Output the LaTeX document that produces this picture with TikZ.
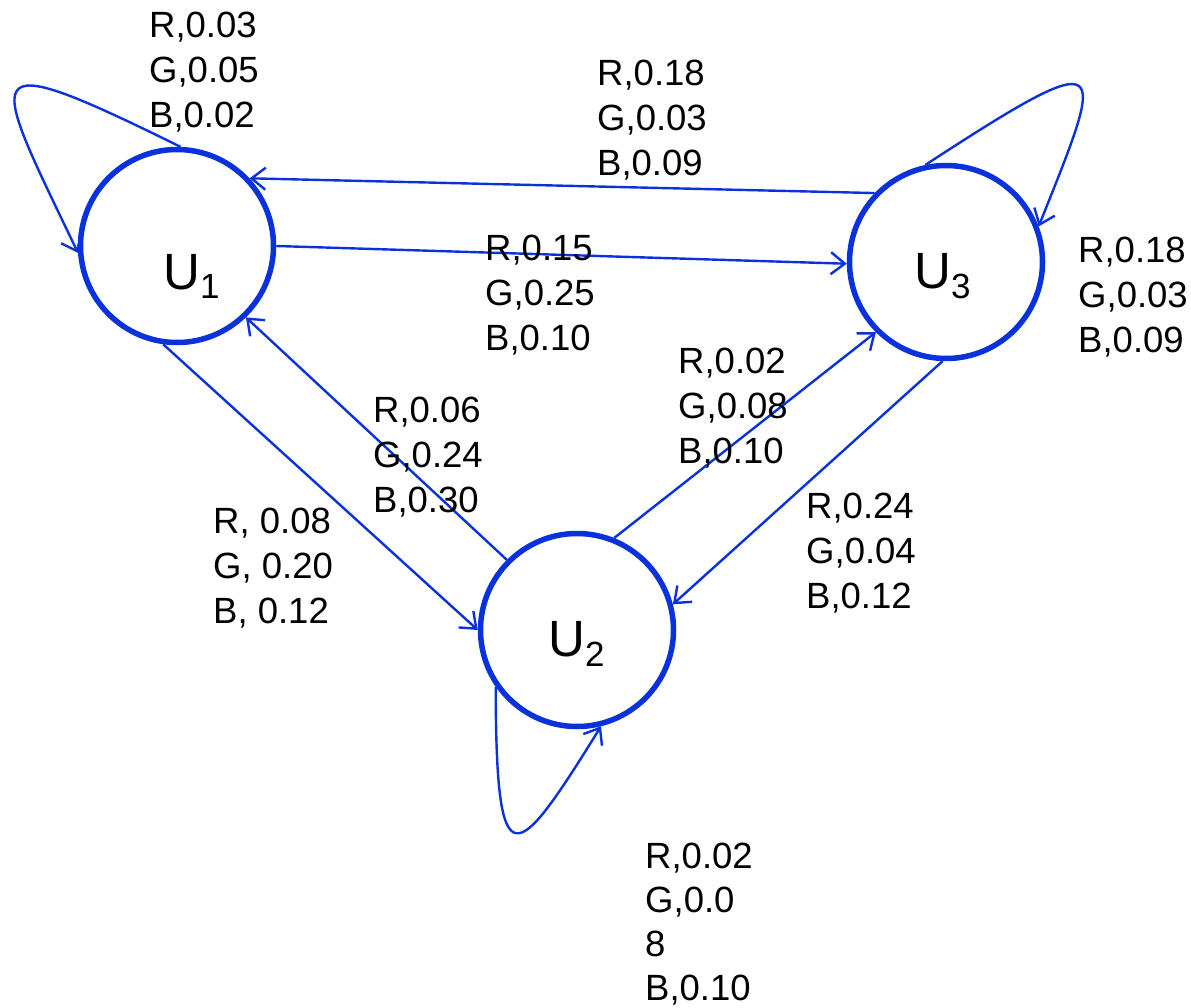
\documentclass[tikz,border=0pt]{standalone}
\usepackage{fontspec}
\setmainfont{Liberation Sans}
\usetikzlibrary{arrows.meta}
\definecolor{eblue}{RGB}{10,50,220}
\begin{document}
\begin{tikzpicture}[x=1pt,y=-1pt,
  state/.style={circle,draw=eblue,line width=5.5pt,minimum size=193pt,inner sep=0pt},
  ulab/.style={anchor=base west,inner sep=0pt,font=\fontsize{51}{60}\selectfont},
  elab/.style={anchor=north west,inner sep=0pt,align=left,font=\fontsize{36.5}{44.8}\selectfont},
  edge/.style={draw=eblue,line width=2.4pt,-{Straight Barb[length=14pt,width=22pt,line width=2.4pt]}}]
\useasboundingbox (0,0) rectangle (1191,1008);
\node[state] (u1) at (177,246) {};
\node[state] (u3) at (946,262) {};
\node[state] (u2) at (577,630) {};
\node[ulab] (t1) at (163,290) {U\raisebox{-9pt}{\fontsize{35}{40}\selectfont 1}};
\node[ulab] (t3) at (914,288) {U\raisebox{-10pt}{\fontsize{35}{40}\selectfont 3}};
\node[ulab] (t2) at (548,656) {U\raisebox{-10pt}{\fontsize{35}{40}\selectfont 2}};
% edges
\draw[edge] (u3.136) -- (u1.43);
\draw[edge] (u1.0) -- (u3.181);
\draw[edge] (u2.135) -- (u1.-46);
\draw[edge] (u1.-98) -- (u2.180);
\draw[edge] (u2.68) -- (u3.225);
\draw[edge] (u3.268) -- (u2.15);
% loops
\draw[edge] (u1.88) .. controls (-30,43) and (-11,67) .. (u1.184);
\draw[edge] (u3.102) .. controls (1117,40) and (1105,60) .. (u3.21);
\draw[edge] (u2.215) .. controls (496,885) and (515,865) .. (u2.284);
% labels
\node[elab] (l11) at (149,12) {R,0.03\\G,0.05\\B,0.02};
\node[elab] (l31) at (597,60) {R,0.18\\G,0.03\\B,0.09};
\node[elab] (l13) at (485,235) {R,0.15\\G,0.25\\B,0.10};
\node[elab] (l33) at (1078,237) {R,0.18\\G,0.03\\B,0.09};
\node[elab] (l23) at (678,348) {R,0.02\\G,0.08\\B,0.10};
\node[elab] (l21) at (373,397) {R,0.06\\G,0.24\\B,0.30};
\node[elab] (l12) at (213,508) {R, 0.08\\G, 0.20\\B, 0.12};
\node[elab] (l32) at (806,493) {R,0.24\\G,0.04\\B,0.12};
\node[elab,font=\fontsize{36.5}{44}\selectfont] (l22) at (645,843) {R,0.02\\G,0.0\\8\\B,0.10};
\end{tikzpicture}
\end{document}
